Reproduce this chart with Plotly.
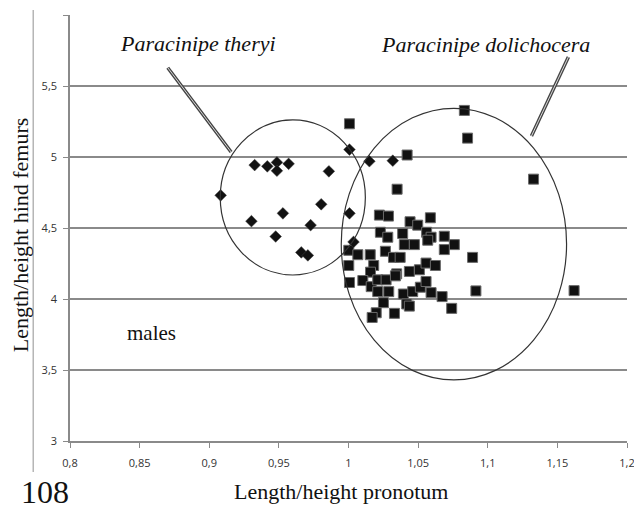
import plotly.graph_objects as go

# Paracinipe theryi (diamonds)
theryi_x = [0.9326, 0.9417, 0.9486, 0.9486, 0.9570, 0.9859, 0.9082, 0.9804, 0.9529,
            0.9303, 0.9728, 0.9477, 0.9661, 0.9708, 1.0007, 1.0150, 1.0007, 1.0036, 1.0318]
theryi_y = [4.943, 4.934, 4.962, 4.903, 4.952, 4.899, 4.730, 4.667, 4.603,
            4.548, 4.520, 4.440, 4.328, 4.307, 5.052, 4.970, 4.603, 4.402, 4.974]

# Paracinipe dolichocera (squares)
dolicho_x = [1.0007, 1.0832, 1.0855, 1.0421, 1.0349, 1.0222, 1.0287, 1.0588, 1.0442, 1.0497,
             1.0229, 1.0282, 1.0389, 1.0561, 1.0593, 1.0569, 1.0688, 1.0760, 1.0688, 1.0401,
             1.0473, 1.0002, 1.0067, 1.0156, 1.0265, 1.0323, 1.0371, 1.0891, 1.0002, 1.0181,
             1.0158, 1.0437, 1.0509, 1.0557, 1.0624, 1.0346, 1.0103, 1.0163, 1.0210, 1.0270,
             1.0337, 1.0007, 1.0210, 1.0289, 1.0394, 1.0461, 1.0516, 1.0557, 1.0593, 1.0672,
             1.0418, 1.0437, 1.0741, 1.0251, 1.0330, 1.0199, 1.0170, 1.0915, 1.1329, 1.1620]
dolicho_y = [5.234, 5.328, 5.133, 5.014, 4.773, 4.591, 4.584, 4.572, 4.544, 4.520,
             4.470, 4.435, 4.461, 4.470, 4.435, 4.414, 4.442, 4.383, 4.348, 4.383,
             4.383, 4.343, 4.312, 4.312, 4.336, 4.293, 4.293, 4.293, 4.236, 4.236,
             4.189, 4.194, 4.206, 4.253, 4.236, 4.177, 4.130, 4.087, 4.135, 4.135,
             4.163, 4.116, 4.052, 4.052, 4.035, 4.052, 4.083, 4.123, 4.045, 4.017,
             3.965, 3.950, 3.934, 3.974, 3.899, 3.903, 3.870, 4.057, 4.844, 4.059]

x_ticks = [0.8, 0.85, 0.9, 0.95, 1.0, 1.05, 1.1, 1.15, 1.2]
x_tick_labels = ["0,8", "0,85", "0,9", "0,95", "1", "1,05", "1,1", "1,15", "1,2"]
y_ticks = [3, 3.5, 4, 4.5, 5, 5.5, 6]
y_tick_labels = ["3", "3,5", "4", "4,5", "5", "5,5", "6"]

SERIF = "Liberation Serif, Times New Roman, serif"
SANS = "Open Sans, DejaVu Sans, sans-serif"
GRID = "#8a8a8a"

fig = go.Figure()
fig.add_trace(go.Scatter(
    x=dolicho_x, y=dolicho_y, mode="markers", name="Paracinipe dolichocera",
    marker=dict(symbol="square", size=10, color="#111111",
                line=dict(color="#6a6a6a", width=1))))
fig.add_trace(go.Scatter(
    x=theryi_x, y=theryi_y, mode="markers", name="Paracinipe theryi",
    marker=dict(symbol="diamond", size=9, color="#111111",
                line=dict(color="#444444", width=0.5))))

shapes = [
    dict(type="circle", xref="x", yref="y", x0=0.9079, x1=1.0121, y0=4.169, y1=5.261,
         line=dict(color="#333333", width=1.2)),
    dict(type="circle", xref="x", yref="y", x0=0.9948, x1=1.1566, y0=3.430, y1=5.343,
         line=dict(color="#333333", width=1.2)),
    dict(type="line", xref="x", yref="y", x0=0.8702, y0=5.629, x1=0.9157, y1=5.035,
         line=dict(color="#444444", width=3.5)),
    dict(type="line", xref="x", yref="y", x0=0.8702, y0=5.629, x1=0.9157, y1=5.035,
         line=dict(color="#d8d8d8", width=1)),
    dict(type="line", xref="x", yref="y", x0=1.1579, y0=5.704, x1=1.1314, y1=5.148,
         line=dict(color="#444444", width=3.5)),
    dict(type="line", xref="x", yref="y", x0=1.1579, y0=5.704, x1=1.1314, y1=5.148,
         line=dict(color="#d8d8d8", width=1)),
    dict(type="line", xref="paper", yref="paper", x0=-0.066, x1=-0.066, y0=-0.073, y1=1.012,
         line=dict(color="#b5b5b5", width=1.5)),
]

annotations = [
    dict(text="<i>Paracinipe theryi</i>", x=0.8921, y=5.796, xref="x", yref="y",
         xanchor="center", yanchor="middle",
         showarrow=False, font=dict(family=SERIF, size=22, color="#111111")),
    dict(text="<i>Paracinipe dolichocera</i>", x=1.0986, y=5.789, xref="x", yref="y",
         xanchor="center", yanchor="middle",
         showarrow=False, font=dict(family=SERIF, size=22, color="#111111")),
    dict(text="males", x=0.8582, y=3.761, xref="x", yref="y",
         xanchor="center", yanchor="middle",
         showarrow=False, font=dict(family=SERIF, size=21, color="#111111")),
    dict(text="Length/height pronotum", x=0.4866, y=-0.1197, xref="paper", yref="paper",
         xanchor="center", yanchor="middle",
         showarrow=False, font=dict(family=SERIF, size=22, color="#111111")),
    dict(text="Length/height hind femurs", x=-0.0875, y=0.4836, xref="paper", yref="paper",
         xanchor="center", yanchor="middle",
         textangle=-90, showarrow=False, font=dict(family=SERIF, size=22, color="#111111")),
    dict(text="108", x=-0.0446, y=-0.119, xref="paper", yref="paper",
         xanchor="center", yanchor="middle",
         showarrow=False, font=dict(family=SERIF, size=32, color="#111111")),
]

fig.update_layout(
    width=634, height=502,
    margin=dict(l=62, r=12, t=7, b=69),
    paper_bgcolor="white", plot_bgcolor="white",
    showlegend=False,
    shapes=shapes, annotations=annotations,
    xaxis=dict(range=[0.8, 1.2], tickvals=x_ticks, ticktext=x_tick_labels,
               showgrid=False, zeroline=False, showline=True, linecolor=GRID, linewidth=1.5,
               ticks="outside", ticklen=5, tickcolor=GRID, tickwidth=1,
               ticklabelstandoff=6,
               tickfont=dict(family=SANS, size=11, color="#333333")),
    yaxis=dict(range=[3, 6], tickvals=y_ticks, ticktext=y_tick_labels,
               showgrid=True, gridcolor=GRID, gridwidth=1.5, zeroline=False,
               showline=True, linecolor=GRID, linewidth=1.5,
               ticks="outside", ticklen=5, tickcolor=GRID, tickwidth=1,
               ticklabelstandoff=4,
               tickfont=dict(family=SANS, size=11, color="#333333")),
)

fig.write_html("out.html")
